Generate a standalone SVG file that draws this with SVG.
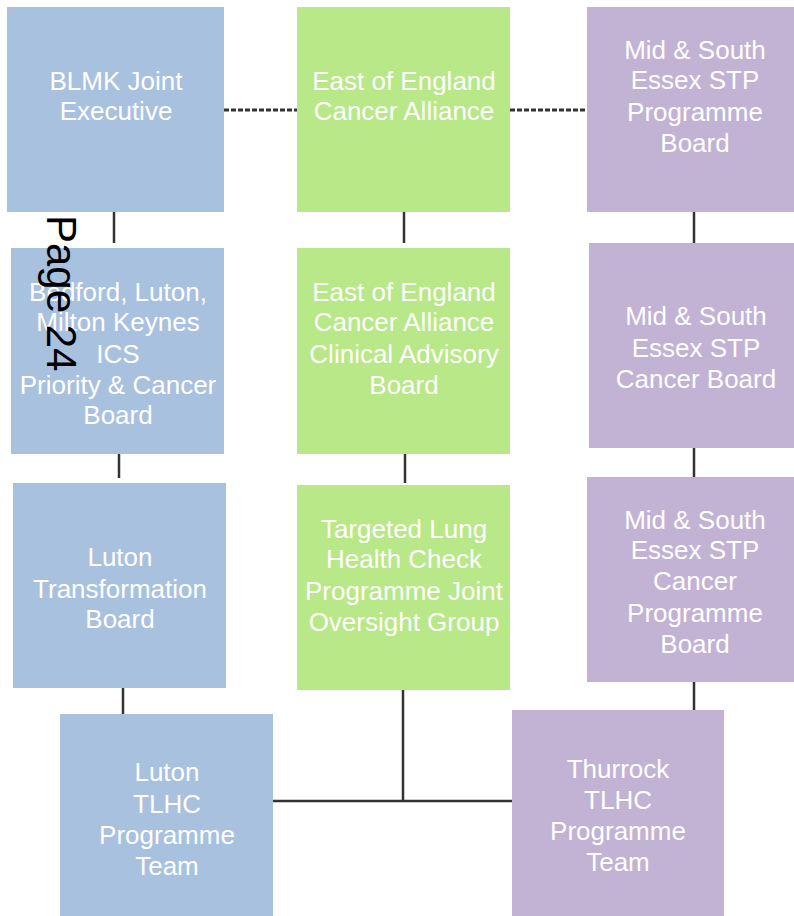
<svg xmlns="http://www.w3.org/2000/svg" width="794" height="916" viewBox="0 0 794 916">
<style>
.b{fill:#a8c1df}.g{fill:#b8e887}.p{fill:#c2b2d4}
text.t{font-family:"Liberation Sans",Arial,sans-serif;font-size:26px;fill:#ffffff;text-anchor:middle}
.c{stroke:#333;stroke-width:2.5;fill:none}
.d{stroke:#333;stroke-width:3;fill:none;stroke-dasharray:5 2}
</style>
<rect width="794" height="916" fill="#ffffff"/>
<g id="connectors">
<line class="d" x1="224" y1="110" x2="297" y2="110"/>
<line class="d" x1="510" y1="110" x2="587" y2="110"/>
<line class="c" x1="114" y1="212" x2="114" y2="243"/>
<line class="c" x1="404" y1="212" x2="404" y2="243"/>
<line class="c" x1="694" y1="212" x2="694" y2="243"/>
<line class="c" x1="119" y1="454" x2="119" y2="478"/>
<line class="c" x1="405" y1="454" x2="405" y2="483"/>
<line class="c" x1="694" y1="448" x2="694" y2="477"/>
<line class="c" x1="123" y1="688" x2="123" y2="714"/>
<line class="c" x1="694" y1="682" x2="694" y2="710"/>
<line class="c" x1="403" y1="690" x2="403" y2="801"/>
<line class="c" x1="273" y1="801" x2="512" y2="801"/>
</g>
<g id="blmk"><rect class="b" x="7" y="7" width="217" height="205"/>
<text class="t"><tspan x="116" y="90">BLMK Joint</tspan><tspan x="116" y="120">Executive</tspan></text></g>
<g id="eoe"><rect class="g" x="297" y="7" width="213" height="205"/>
<text class="t"><tspan x="404" y="90">East of England</tspan><tspan x="404" y="120">Cancer Alliance</tspan></text></g>
<g id="msestp"><rect class="p" x="587" y="7" width="207" height="205"/>
<text class="t"><tspan x="695" y="59">Mid &amp; South</tspan><tspan x="695" y="89">Essex STP</tspan><tspan x="695" y="121">Programme</tspan><tspan x="695" y="152">Board</tspan></text></g>
<g id="bedford"><rect class="b" x="11" y="248" width="213" height="206"/>
<text class="t"><tspan x="118" y="301">Bedford, Luton,</tspan><tspan x="118" y="331">Milton Keynes</tspan><tspan x="118" y="363">ICS</tspan><tspan x="118" y="394">Priority &amp; Cancer</tspan><tspan x="118" y="424">Board</tspan></text></g>
<g id="eoecab"><rect class="g" x="297" y="248" width="213" height="206"/>
<text class="t"><tspan x="404" y="301">East of England</tspan><tspan x="404" y="331">Cancer Alliance</tspan><tspan x="404" y="363">Clinical Advisory</tspan><tspan x="404" y="394">Board</tspan></text></g>
<g id="mscb"><rect class="p" x="589" y="243" width="205" height="205"/>
<text class="t"><tspan x="696" y="325">Mid &amp; South</tspan><tspan x="696" y="357">Essex STP</tspan><tspan x="696" y="388">Cancer Board</tspan></text></g>
<g id="lutontb"><rect class="b" x="13" y="483" width="213" height="205"/>
<text class="t"><tspan x="120" y="566">Luton</tspan><tspan x="120" y="598">Transformation</tspan><tspan x="120" y="628">Board</tspan></text></g>
<g id="tlhcjog"><rect class="g" x="297" y="485" width="213" height="205"/>
<text class="t"><tspan x="404" y="538">Targeted Lung</tspan><tspan x="404" y="568">Health Check</tspan><tspan x="404" y="600">Programme Joint</tspan><tspan x="404" y="631">Oversight Group</tspan></text></g>
<g id="mscpb"><rect class="p" x="587" y="477" width="207" height="205"/>
<text class="t"><tspan x="695" y="529">Mid &amp; South</tspan><tspan x="695" y="559">Essex STP</tspan><tspan x="695" y="590">Cancer</tspan><tspan x="695" y="622">Programme</tspan><tspan x="695" y="653">Board</tspan></text></g>
<g id="lutontlhc"><rect class="b" x="60" y="714" width="213" height="202"/>
<text class="t"><tspan x="167" y="781">Luton</tspan><tspan x="167" y="813">TLHC</tspan><tspan x="167" y="844">Programme</tspan><tspan x="167" y="875">Team</tspan></text></g>
<g id="thurrock"><rect class="p" x="512" y="710" width="212" height="206"/>
<text class="t"><tspan x="618" y="778">Thurrock</tspan><tspan x="618" y="809">TLHC</tspan><tspan x="618" y="840">Programme</tspan><tspan x="618" y="871">Team</tspan></text></g>
<text transform="translate(47,215) rotate(90)" x="0" y="0" font-family="Liberation Sans,Arial,sans-serif" font-size="42" fill="#000000">Page 24</text>
</svg>
